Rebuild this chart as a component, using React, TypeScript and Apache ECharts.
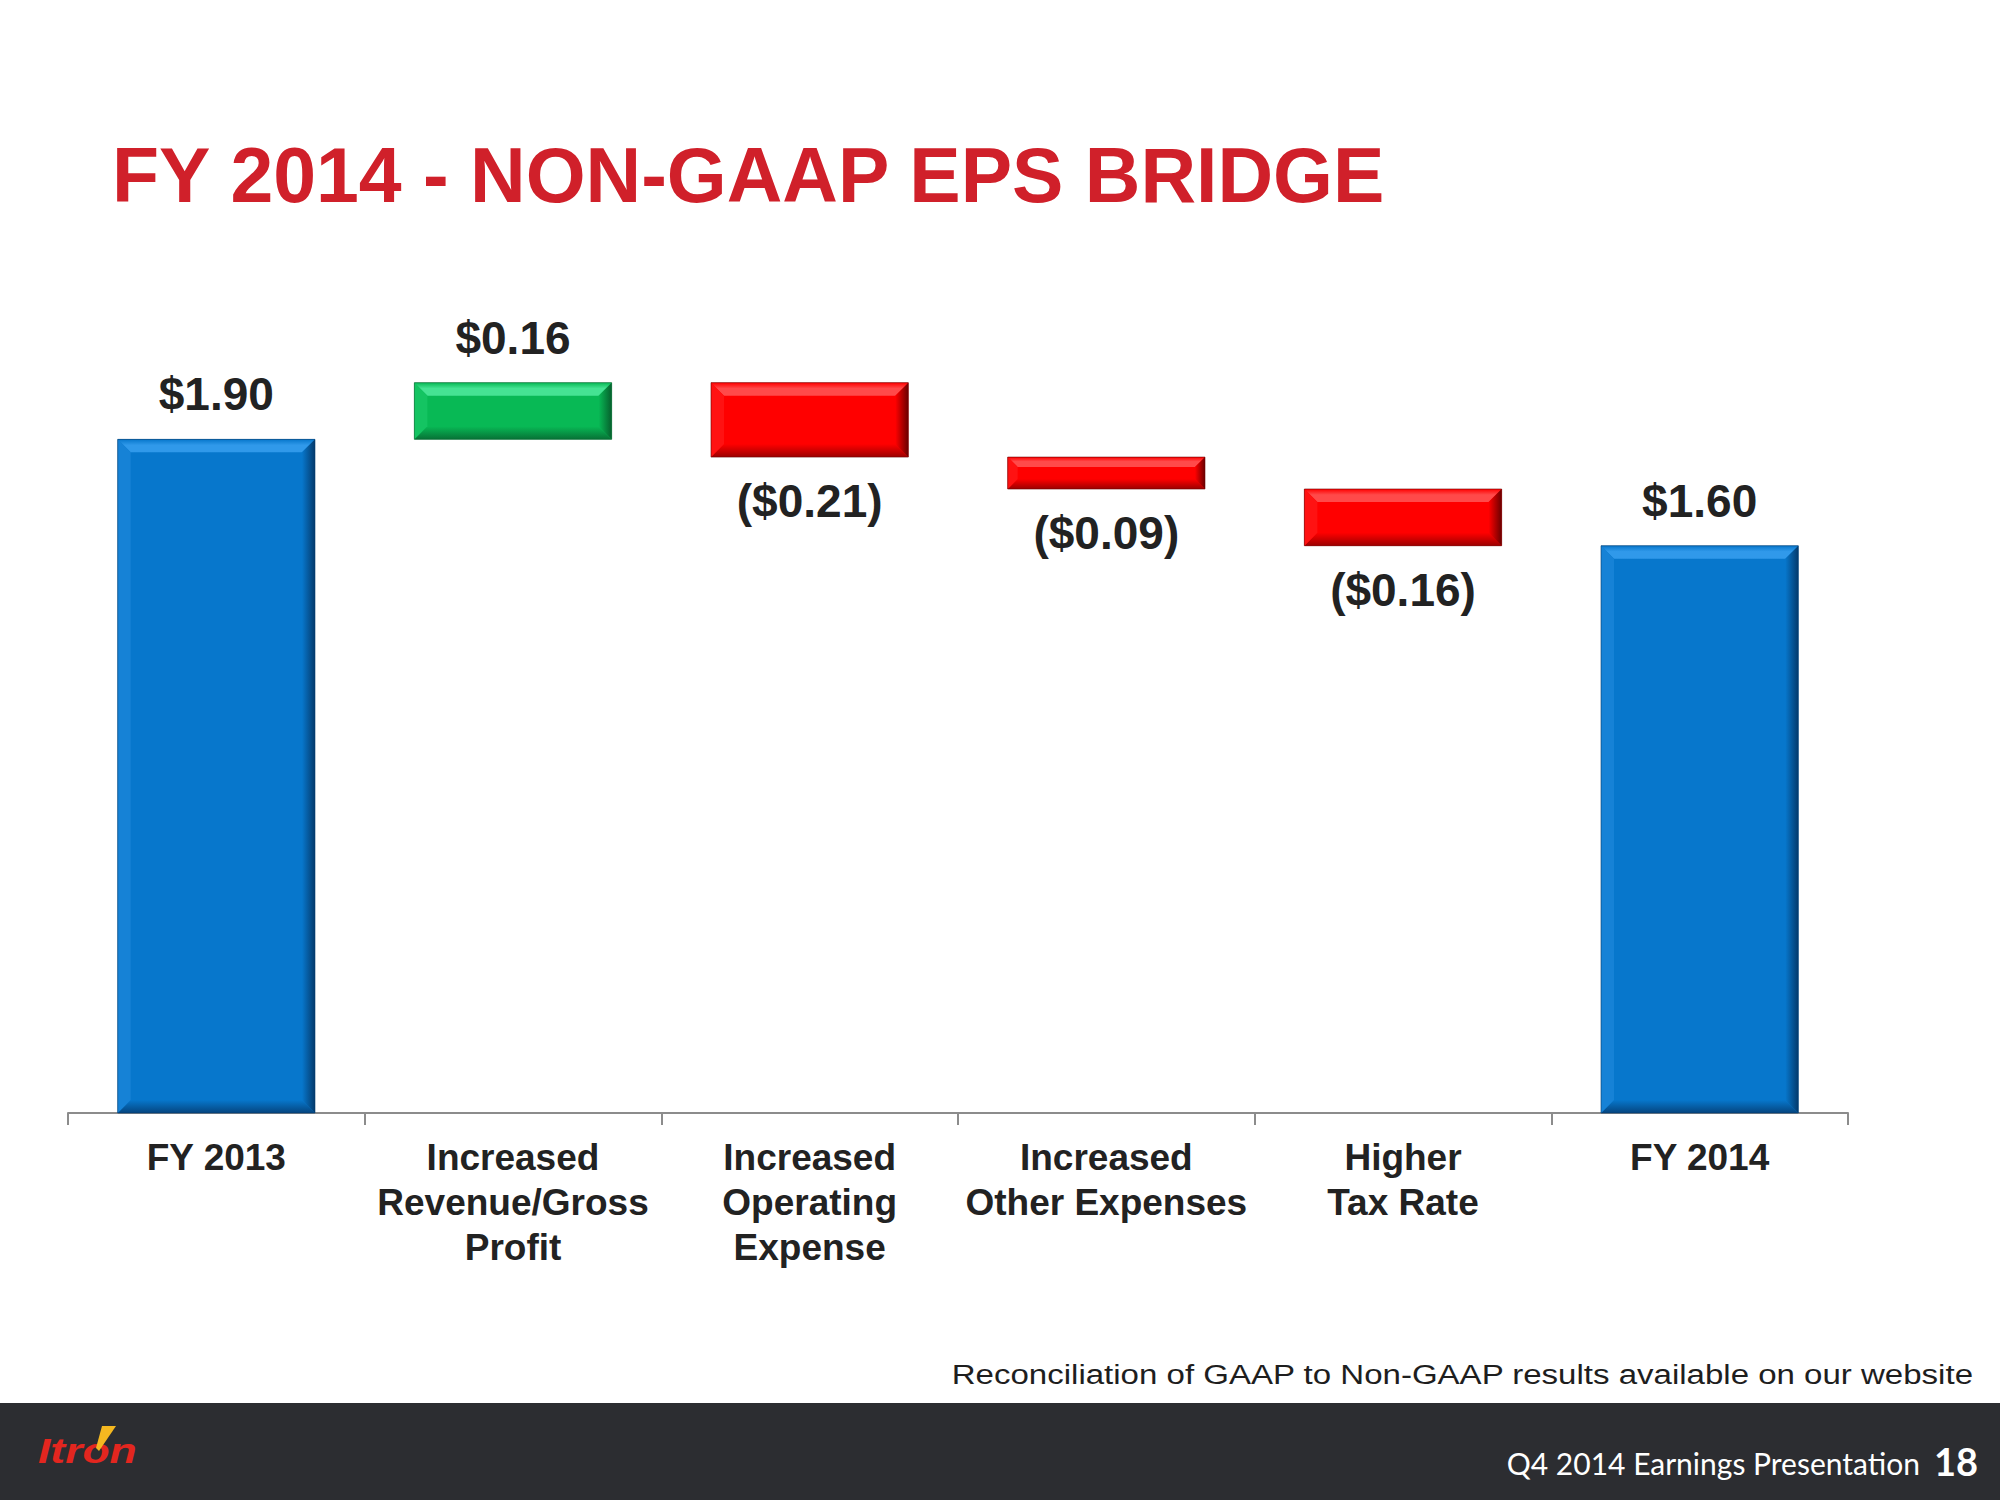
import React, { useEffect, useRef } from "react";
import * as echarts from "echarts";

const categories = [
  "FY 2013",
  "Increased\nRevenue/Gross\nProfit",
  "Increased\nOperating\nExpense",
  "Increased\nOther Expenses",
  "Higher\nTax Rate",
  "FY 2014",
];
const barValues = [1.9, 0.16, -0.21, -0.09, -0.16, 1.6];
const barKinds = ["total", "delta", "delta", "delta", "delta", "total"];
const yMin = 0;
const yMax = 2.2;

const titleText = "FY 2014 - NON-GAAP EPS BRIDGE";
const footnoteText = "Reconciliation of GAAP to Non-GAAP results available on our website";
const footerText = "Q4 2014 Earnings Presentation";
const pageNumber = "18";
const logoText = "Itron";

const palette: Record<string, { main: string; light: string; dark: string; edge: string; side: string }> = {
  total: { main: "#0777cc", light: "#3099ea", dark: "#05457f", edge: "#043a6c", side: "#1682d6" },
  up: { main: "#08b955", light: "#45e393", dark: "#077236", edge: "#06602d", side: "#14c462" },
  down: { main: "#ff0000", light: "#ff4a4a", dark: "#9c0000", edge: "#6a0000", side: "#ff1212" },
};

function fmt(v: number) {
  const s = "$" + Math.abs(v).toFixed(2);
  return v < 0 ? "(" + s + ")" : s;
}

function buildData() {
  const out: number[][] = [];
  let run = 0;
  barValues.forEach((v, i) => {
    if (barKinds[i] === "total") {
      out.push([i, 0, v, 0]);
      run = v;
    } else {
      const a = run;
      const b = run + v;
      out.push([i, Math.min(a, b), Math.max(a, b), v >= 0 ? 1 : 2]);
      run = b;
    }
  });
  return out;
}

export default function App() {
  const ref = useRef<HTMLDivElement>(null);

  useEffect(() => {
    document.body.style.margin = "0";
    if (!ref.current) return;
    const chart = echarts.init(ref.current, null, { renderer: "svg" });
    const data = buildData();
    const kindKeys = ["total", "up", "down"];

    const option: any = {
      animation: false,
      backgroundColor: "#ffffff",
      grid: { left: 68, right: 152, top: 333, bottom: 387, containLabel: false },
      xAxis: {
        type: "category",
        data: categories,
        boundaryGap: true,
        axisLine: { show: true, lineStyle: { color: "#8c8c8c", width: 2 } },
        axisTick: { show: true, length: 12, lineStyle: { color: "#8c8c8c", width: 2 } },
        axisLabel: {
          interval: 0,
          margin: 22,
          color: "#222222",
          fontFamily: "Liberation Sans, Arial, sans-serif",
          fontWeight: "bold",
          fontSize: 37,
          lineHeight: 45,
        },
        splitLine: { show: false },
      },
      yAxis: {
        type: "value",
        min: yMin,
        max: yMax,
        show: false,
        splitLine: { show: false },
      },
      series: [
        {
          type: "custom",
          encode: { x: 0, y: [1, 2] },
          data: data,
          renderItem: (params: any, api: any) => {
            const idx = api.value(0);
            const low = api.value(1);
            const high = api.value(2);
            const kind = kindKeys[api.value(3)];
            const c = palette[kind];
            const pTop = api.coord([idx, high]);
            const pBot = api.coord([idx, low]);
            const bw = api.size([1, 0])[0] * 0.665;
            const x0 = pTop[0] - bw / 2;
            const x1 = pTop[0] + bw / 2;
            const y0 = pTop[1];
            const y1 = pBot[1];
            const h = y1 - y0;
            const b = Math.min(13, h / 3.2);
            const v = barValues[params.dataIndex];
            const labelAbove = barKinds[params.dataIndex] === "total" || v >= 0;
            const ly = labelAbove ? y0 - 45 : y1 + 44;
            const G = echarts.graphic.LinearGradient;
            return {
              type: "group",
              children: [
                {
                  type: "rect",
                  shape: { x: x0, y: y0, width: bw, height: h },
                  style: { fill: c.main },
                },
                {
                  type: "polygon",
                  shape: { points: [[x0, y0], [x1, y0], [x1 - b, y0 + b], [x0 + b, y0 + b]] },
                  style: {
                    fill: new G(0, 0, 0, 1, [
                      { offset: 0, color: c.main },
                      { offset: 0.45, color: c.light },
                      { offset: 1, color: c.light },
                    ]),
                  },
                },
                {
                  type: "polygon",
                  shape: { points: [[x0, y1], [x1, y1], [x1 - b, y1 - b], [x0 + b, y1 - b]] },
                  style: {
                    fill: new G(0, 0, 0, 1, [
                      { offset: 0, color: c.main },
                      { offset: 1, color: c.dark },
                    ]),
                  },
                },
                {
                  type: "polygon",
                  shape: { points: [[x0, y0], [x0 + b, y0 + b], [x0 + b, y1 - b], [x0, y1]] },
                  style: { fill: c.side },
                },
                {
                  type: "polygon",
                  shape: { points: [[x1, y0], [x1 - b, y0 + b], [x1 - b, y1 - b], [x1, y1]] },
                  style: {
                    fill: new G(0, 0, 1, 0, [
                      { offset: 0, color: c.main },
                      { offset: 1, color: c.edge },
                    ]),
                  },
                },
                {
                  type: "rect",
                  shape: { x: x0, y: y0, width: bw, height: h },
                  style: { fill: "none", stroke: c.edge, lineWidth: 1, opacity: 0.6 },
                },
                {
                  type: "text",
                  x: pTop[0],
                  y: ly,
                  style: {
                    text: fmt(v),
                    fill: "#222222",
                    fontFamily: "Liberation Sans, Arial, sans-serif",
                    fontWeight: "bold",
                    fontSize: 46,
                    align: "center",
                    verticalAlign: "middle",
                  },
                },
              ],
            };
          },
        },
      ],
      graphic: [
        {
          type: "text",
          left: 112,
          top: 136,
          style: {
            text: titleText,
            fill: "#d0202a",
            fontFamily: "Liberation Sans, Arial, sans-serif",
            fontWeight: "bold",
            fontSize: 77,
          },
        },
        {
          type: "text",
          x: 1973,
          y: 1374,
          scaleX: 1.18,
          style: {
            text: footnoteText,
            fill: "#1e1e1e",
            fontFamily: "Liberation Sans, Arial, sans-serif",
            fontSize: 28,
            align: "right",
            verticalAlign: "middle",
          },
        },
        {
          type: "rect",
          shape: { x: 0, y: 1403, width: 2000, height: 97 },
          style: { fill: "#2c2d31" },
        },
        {
          type: "text",
          x: 1920,
          y: 1463,
          style: {
            text: footerText,
            fill: "#ffffff",
            fontFamily: "Lato, Open Sans, sans-serif",
            fontSize: 30,
            align: "right",
            verticalAlign: "middle",
          },
        },
        {
          type: "text",
          x: 1978,
          y: 1461,
          style: {
            text: pageNumber,
            fill: "#ffffff",
            fontFamily: "Lato, Open Sans, sans-serif",
            fontWeight: "bold",
            fontSize: 38,
            align: "right",
            verticalAlign: "middle",
          },
        },
        {
          type: "text",
          x: 38,
          y: 1468,
          scaleX: 1.27,
          style: {
            text: logoText,
            fill: "#e3261f",
            fontFamily: "Liberation Sans, Arial, sans-serif",
            fontWeight: "bold",
            fontStyle: "italic",
            fontSize: 35,
            align: "left",
            verticalAlign: "bottom",
          },
        },
        {
          type: "polygon",
          shape: { points: [[102, 1426], [116, 1426], [99, 1451], [96, 1448]] },
          style: { fill: "#f5b820" },
        },
      ],
    };

    chart.setOption(option);
    return () => chart.dispose();
  }, []);

  return <div ref={ref} style={{ width: 2000, height: 1500 }} />;
}
